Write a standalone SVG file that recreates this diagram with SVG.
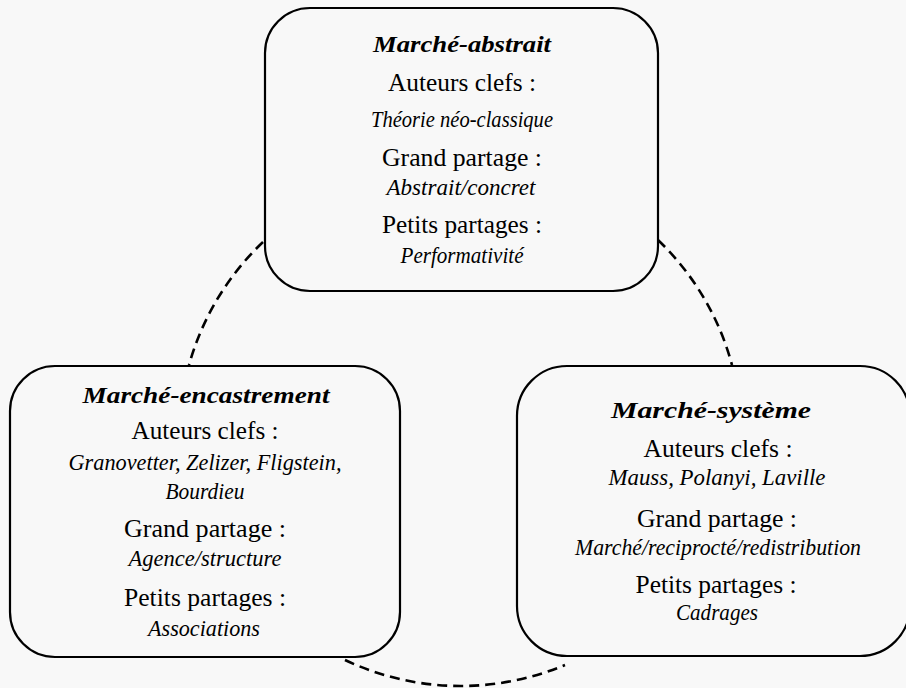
<svg xmlns="http://www.w3.org/2000/svg" width="906" height="688" viewBox="0 0 906 688">
<style>
.box{fill:#f8f8f8;stroke:#000;stroke-width:2.2}
.arc{fill:none;stroke:#000;stroke-width:2.6;stroke-dasharray:10 6}
.txt text{fill:#000;text-anchor:middle}
.t{font-size:24px;font-weight:bold;font-style:italic}
.r{font-size:25px}
.i{font-size:24px;font-style:italic}
</style>
<rect width="906" height="688" fill="#f8f8f8"/>
<g id="connectors">
<path class="arc" d="M 263 242 A 270 270 0 0 0 189 365"/>
<path class="arc" d="M 658 240 A 270 270 0 0 1 732 365"/>
<path class="arc" d="M 345 660 A 270 270 0 0 0 565 665"/>
</g>
<g id="marche-abstrait" class="txt" font-family="'Liberation Serif', 'DejaVu Serif', serif">
<rect class="box" x="265" y="8" width="393" height="283" rx="45" ry="45"/>
<text class="t" x="462" y="52" textLength="178" lengthAdjust="spacingAndGlyphs">Marché-abstrait</text>
<text class="r" x="462" y="91" textLength="148" lengthAdjust="spacingAndGlyphs">Auteurs clefs :</text>
<text class="i" x="462" y="127" textLength="182" lengthAdjust="spacingAndGlyphs">Théorie néo-classique</text>
<text class="r" x="462" y="166" textLength="160" lengthAdjust="spacingAndGlyphs">Grand partage :</text>
<text class="i" x="461" y="195" textLength="149" lengthAdjust="spacingAndGlyphs">Abstrait/concret</text>
<text class="r" x="462" y="233" textLength="160" lengthAdjust="spacingAndGlyphs">Petits partages :</text>
<text class="i" x="462" y="263" textLength="123" lengthAdjust="spacingAndGlyphs">Performativité</text>
</g>
<g id="marche-encastrement" class="txt" font-family="'Liberation Serif', 'DejaVu Serif', serif">
<rect class="box" x="10" y="366" width="390" height="291" rx="45" ry="45"/>
<text class="t" x="206" y="403" textLength="247" lengthAdjust="spacingAndGlyphs">Marché-encastrement</text>
<text class="r" x="205" y="439" textLength="147" lengthAdjust="spacingAndGlyphs">Auteurs clefs :</text>
<text class="i" x="205" y="470" textLength="273" lengthAdjust="spacingAndGlyphs">Granovetter, Zelizer, Fligstein,</text>
<text class="i" x="205" y="499" textLength="79" lengthAdjust="spacingAndGlyphs">Bourdieu</text>
<text class="r" x="205" y="537" textLength="162" lengthAdjust="spacingAndGlyphs">Grand partage :</text>
<text class="i" x="205" y="566" textLength="153" lengthAdjust="spacingAndGlyphs">Agence/structure</text>
<text class="r" x="205" y="606" textLength="162" lengthAdjust="spacingAndGlyphs">Petits partages :</text>
<text class="i" x="204" y="636" textLength="112" lengthAdjust="spacingAndGlyphs">Associations</text>
</g>
<g id="marche-systeme" class="txt" font-family="'Liberation Serif', 'DejaVu Serif', serif">
<rect class="box" x="517" y="366" width="393" height="290" rx="50" ry="50"/>
<text class="t" x="711" y="418" textLength="200" lengthAdjust="spacingAndGlyphs">Marché-système</text>
<text class="r" x="718" y="457" textLength="149" lengthAdjust="spacingAndGlyphs">Auteurs clefs :</text>
<text class="i" x="717" y="485" textLength="217" lengthAdjust="spacingAndGlyphs">Mauss, Polanyi, Laville</text>
<text class="r" x="717" y="527" textLength="160" lengthAdjust="spacingAndGlyphs">Grand partage :</text>
<text class="i" x="718" y="555" textLength="286" lengthAdjust="spacingAndGlyphs">Marché/reciprocté/redistribution</text>
<text class="r" x="716" y="593" textLength="161" lengthAdjust="spacingAndGlyphs">Petits partages :</text>
<text class="i" x="717" y="620" textLength="82" lengthAdjust="spacingAndGlyphs">Cadrages</text>
</g>
</svg>
